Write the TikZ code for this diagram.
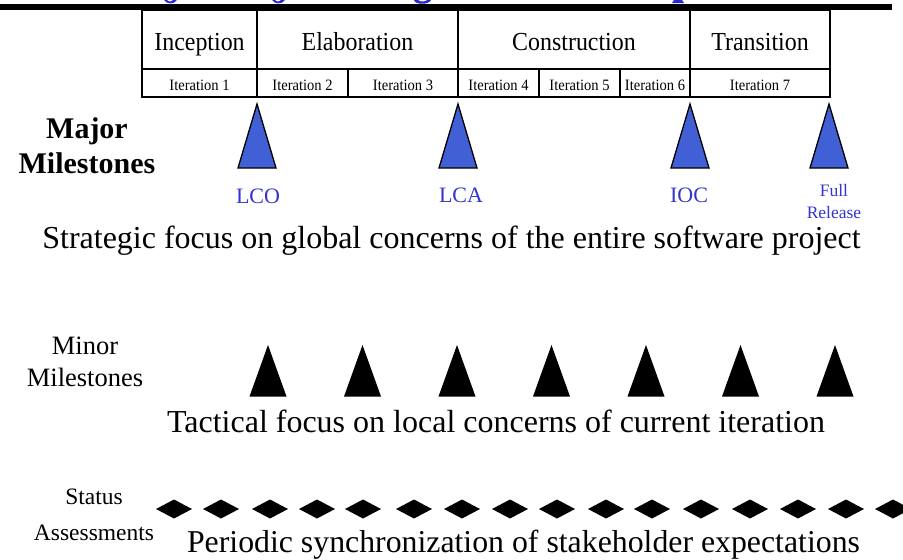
\documentclass[tikz,border=0pt]{standalone}
\usepackage{fontspec}
\setmainfont{Liberation Serif}
\newfontfamily\narrowserif[FakeStretch=0.92]{Liberation Serif}
\definecolor{msblue}{RGB}{66,96,214}
\definecolor{lblue}{RGB}{52,52,206}
\definecolor{ttlblue}{RGB}{40,40,215}
\tikzset{
  cell/.style={draw, line width=1.4pt, inner sep=0pt, anchor=center},
  phase/.style={cell, minimum height=59pt, text height=24pt, text depth=3pt,
    font=\narrowserif\fontsize{26}{26}\selectfont},
  iter/.style={cell, minimum height=28pt, text height=16.5pt, text depth=1.1pt,
    font=\narrowserif\fontsize{15.8}{15.8}\selectfont},
  majortri/.style={fill=msblue, draw=black, line width=1.3pt, line join=miter},
  minortri/.style={fill=black},
  statusdia/.style={fill=black},
  mslabel/.style={text=lblue, inner sep=0pt, font=\fontsize{22}{22}\selectfont},
  focus/.style={inner sep=0pt, anchor=base, font=\fontsize{32}{32}\selectfont},
  sidelabel/.style={inner sep=0pt, align=center}
}
\begin{document}
\begin{tikzpicture}[x=1pt,y=-1pt]
\useasboundingbox (0,0) rectangle (903,560);

% descenders of the heading above the rule
\fill[ttlblue] (164,0) .. controls (166,4) and (174,5) .. (177,0) -- (173,0) .. controls (172,2) and (168,2) .. (167,0) -- cycle;
\fill[ttlblue] (272,0) .. controls (274,4) and (282,5) .. (285,0) -- (281,0) .. controls (280,2) and (276,2) .. (275,0) -- cycle;
\fill[ttlblue] (414,0) .. controls (415,5) and (429,5) .. (431,0) -- (427,0) .. controls (426,2) and (419,2) .. (418,0) -- cycle;
\fill[ttlblue] (674,0) -- (682,0) -- (684,3) -- (672,3) -- cycle;

% heading rule
\fill[black] (0,4) rectangle (892,10);

% phase row
\node[phase, minimum width=115pt] (inc) at (199.5,39.5) {Inception};
\node[phase, minimum width=201pt] (ela) at (357.5,39.5) {Elaboration};
\node[phase, minimum width=232pt] (con) at (574,39.5) {Construction};
\node[phase, minimum width=140pt] (tra) at (760,39.5) {Transition};

% iteration row
\node[iter, minimum width=115pt] (it1) at (199.5,83) {Iteration 1};
\node[iter, minimum width=91pt]  (it2) at (302.5,83) {Iteration 2};
\node[iter, minimum width=110pt] (it3) at (403,83) {Iteration 3};
\node[iter, minimum width=81pt]  (it4) at (498.5,83) {Iteration 4};
\node[iter, minimum width=81pt]  (it5) at (579.5,83) {Iteration 5};
\node[iter, minimum width=70pt]  (it6) at (655,83) {Iteration 6};
\node[iter, minimum width=140pt] (it7) at (760,83) {Iteration 7};

% major milestones
\node[sidelabel, font=\bfseries\fontsize{30}{35}\selectfont] (major) at (87,146) {Major\\Milestones};
\foreach \x in {257,458,690,829}
  \draw[majortri] (\x,104) -- (\x+19,168) -- (\x-19,168) -- cycle;
\node[mslabel] (lco) at (258,196) {LCO};
\node[mslabel] (lca) at (461,195) {LCA};
\node[mslabel] (ioc) at (689,195) {IOC};
\node[mslabel, align=center, font=\fontsize{17.5}{22}\selectfont] (full) at (834,202) {Full\\Release};

\node[focus] (strat) at (451.5,248) {Strategic focus on global concerns of the entire software project};

% minor milestones
\node[sidelabel, font=\fontsize{26.5}{32}\selectfont] (minor) at (85,362) {Minor\\Milestones};
\foreach \i in {0,...,6}
  \fill[minortri] (268+94.5*\i,345) -- (268+94.5*\i+18.5,396.5) -- (268+94.5*\i-18.5,396.5) -- cycle;
\node[focus] (tact) at (496,432) {Tactical focus on local concerns of current iteration};

% status assessments
\node[sidelabel, font=\fontsize{23.5}{36}\selectfont] (status) at (94,515) {Status\\Assessments};
\foreach \c in {174,221,270,317,363,414,462,510,557,606,652,701,750,798,846,893}
  \fill[statusdia] (\c-18,509) -- (\c,499.5) -- (\c+18,509) -- (\c,518.5) -- cycle;
\node[focus, font=\fontsize{31.8}{31.8}\selectfont] (period) at (523.5,552) {Periodic synchronization of stakeholder expectations};
\end{tikzpicture}
\end{document}
